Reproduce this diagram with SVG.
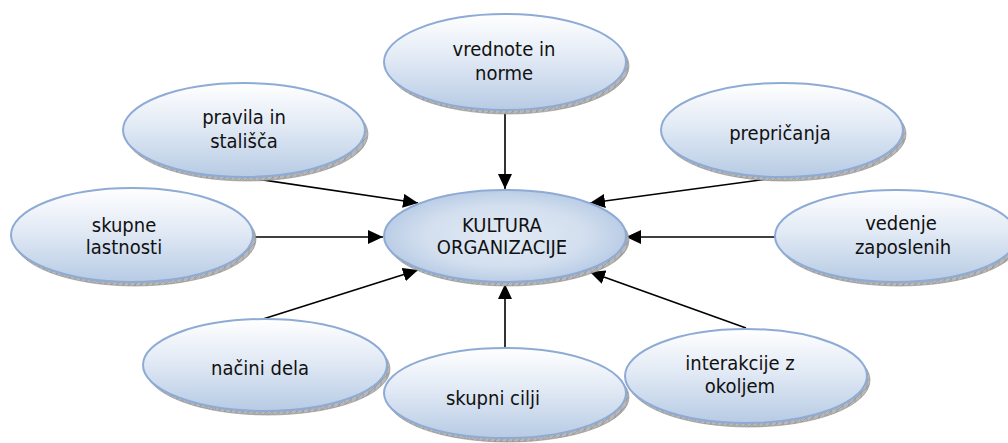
<svg xmlns="http://www.w3.org/2000/svg" width="1008" height="443" viewBox="0 0 1008 443">
<style>
.shadow{fill:url(#hatch);stroke:#8a8a8a;stroke-width:0.6}
.node{fill:url(#gOuter);stroke:#8eabd6;stroke-width:2}
.center{fill:url(#gCenter);stroke:#8eabd6;stroke-width:2}
text{font-family:"DejaVu Sans Condensed","DejaVu Sans",sans-serif;font-stretch:condensed;font-size:20px;fill:#111;text-anchor:middle}
.conn line{stroke:#000;stroke-width:1.6;fill:none}
</style>
<defs>
<linearGradient id="gOuter" x1="0" y1="0" x2="0" y2="1">
<stop offset="0" stop-color="#ffffff"/>
<stop offset="0.45" stop-color="#e2eaf5"/>
<stop offset="1" stop-color="#b7cbe4"/>
</linearGradient>
<radialGradient id="gCenter" cx="0.5" cy="0.5" r="0.55">
<stop offset="0" stop-color="#e2eaf4"/>
<stop offset="0.6" stop-color="#d3dfef"/>
<stop offset="1" stop-color="#b3c8e3"/>
</radialGradient>
<pattern id="hatch" width="6" height="6" patternUnits="userSpaceOnUse">
<rect width="6" height="6" fill="#b8b8b8"/>
<path d="M0 6L6 0M3 0V6" stroke="#8c8c8c" stroke-width="0.6"/>
</pattern>
<marker id="arr" markerUnits="userSpaceOnUse" markerWidth="16" markerHeight="14" refX="15" refY="7" orient="auto">
<path d="M0 0L15 7L0 14Z" fill="#000"/>
</marker>
</defs>

<g id="connectors" class="conn">
<line x1="505" y1="114" x2="505" y2="189" marker-end="url(#arr)"/>
<line x1="243" y1="177" x2="418" y2="203" marker-end="url(#arr)"/>
<line x1="782" y1="177" x2="590" y2="203" marker-end="url(#arr)"/>
<line x1="253" y1="237" x2="383" y2="237" marker-end="url(#arr)"/>
<line x1="775" y1="237" x2="626" y2="237" marker-end="url(#arr)"/>
<line x1="263" y1="319" x2="418" y2="270" marker-end="url(#arr)"/>
<line x1="505" y1="348" x2="505" y2="284" marker-end="url(#arr)"/>
<line x1="746" y1="328" x2="590" y2="272" marker-end="url(#arr)"/>
</g>

<g id="n-center">
<ellipse class="shadow" cx="508" cy="240" rx="121" ry="46"/>
<ellipse class="center" cx="505" cy="236" rx="121" ry="46"/>
<text x="502" y="232">KULTURA</text>
<text x="502" y="254">ORGANIZACIJE</text>
</g>

<g id="n-vrednote">
<ellipse class="shadow" cx="508" cy="66" rx="121" ry="48"/>
<ellipse class="node" cx="505" cy="62" rx="121" ry="48"/>
<text x="504" y="56">vrednote in</text>
<text x="504" y="80">norme</text>
</g>

<g id="n-pravila">
<ellipse class="shadow" cx="247" cy="134" rx="121" ry="47"/>
<ellipse class="node" cx="244" cy="130" rx="121" ry="47"/>
<text x="244" y="124">pravila in</text>
<text x="244" y="148">stališča</text>
</g>

<g id="n-prepricanja">
<ellipse class="shadow" cx="785" cy="134" rx="121" ry="47"/>
<ellipse class="node" cx="782" cy="130" rx="121" ry="47"/>
<text x="780" y="140">prepričanja</text>
</g>

<g id="n-skupne">
<ellipse class="shadow" cx="135" cy="239" rx="121" ry="47"/>
<ellipse class="node" cx="132" cy="235" rx="121" ry="47"/>
<text x="124" y="232">skupne</text>
<text x="124" y="254">lastnosti</text>
</g>

<g id="n-vedenje">
<ellipse class="shadow" cx="899" cy="240" rx="121" ry="46"/>
<ellipse class="node" cx="896" cy="236" rx="121" ry="46"/>
<text x="901" y="230">vedenje</text>
<text x="903" y="254">zaposlenih</text>
</g>

<g id="n-nacini">
<ellipse class="shadow" cx="268" cy="369" rx="122" ry="46"/>
<ellipse class="node" cx="265" cy="365" rx="122" ry="46"/>
<text x="260" y="375">načini dela</text>
</g>

<g id="n-cilji">
<ellipse class="shadow" cx="508" cy="397" rx="121" ry="45"/>
<ellipse class="node" cx="505" cy="393" rx="121" ry="45"/>
<text x="493" y="405">skupni cilji</text>
</g>

<g id="n-interakcije">
<ellipse class="shadow" cx="749" cy="380" rx="121" ry="47"/>
<ellipse class="node" cx="746" cy="376" rx="121" ry="47"/>
<text x="740" y="370">interakcije z</text>
<text x="740" y="393">okoljem</text>
</g>
</svg>
